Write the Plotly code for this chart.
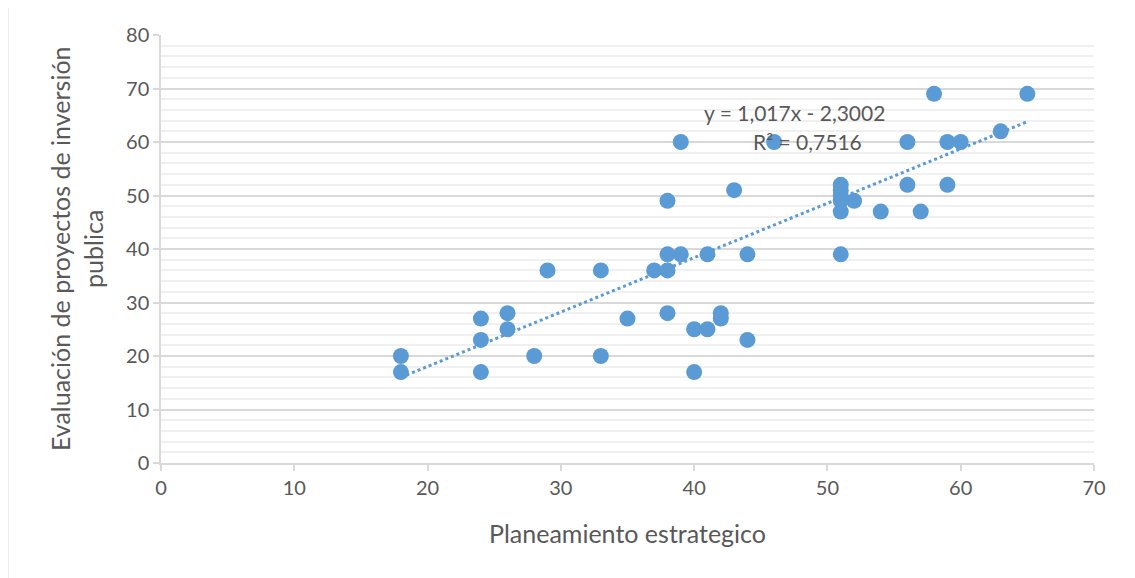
import plotly.graph_objects as go

plan_x = [18, 18, 24, 24, 24, 26, 26, 28, 29, 33, 33, 35, 37, 38, 38, 38, 38,
          39, 39, 40, 40, 41, 41, 42, 42, 43, 44, 44, 46, 51, 51, 51, 51, 51,
          51, 52, 54, 56, 56, 57, 58, 59, 59, 60, 63, 65]
eval_y = [20, 17, 27, 23, 17, 28, 25, 20, 36, 36, 20, 27, 36, 49, 39, 36, 28,
          60, 39, 25, 17, 39, 25, 28, 27, 51, 39, 23, 60, 52, 51, 50, 49, 47,
          39, 49, 47, 60, 52, 47, 69, 60, 52, 60, 62, 69]

slope = 1.017
intercept = -2.3002
eq_text = "y = 1,017x - 2,3002"
r2_text = "R² = 0,7516"

x_title = "Planeamiento estrategico"
y_title = "Evaluación de proyectos de inversión<br>publica"

blue = "#5B9BD5"
grey_text = "#595959"
font_family = "Lato, Open Sans, sans-serif"

fig = go.Figure()

tx = [min(plan_x), max(plan_x)]
ty = [slope * v + intercept for v in tx]
fig.add_trace(go.Scatter(x=tx, y=ty, mode="lines",
                         line=dict(color=blue, width=3, dash="dot"),
                         hoverinfo="skip", showlegend=False))

fig.add_trace(go.Scatter(x=plan_x, y=eval_y, mode="markers",
                         marker=dict(color=blue, size=16, line=dict(width=0)),
                         showlegend=False))

axis_common = dict(showline=True, linecolor="#D9D9D9", linewidth=1.5,
                   ticks="outside", tickcolor="#D9D9D9", ticklen=6, tickwidth=1.5,
                   tickfont=dict(size=20, color=grey_text, family=font_family),
                   zeroline=False)

fig.update_layout(
    width=1127, height=570,
    margin=dict(l=153, r=41, t=27, b=115),
    paper_bgcolor="white", plot_bgcolor="white",
    font=dict(family=font_family, color=grey_text),
    xaxis=dict(range=[0, 70], dtick=10, showgrid=False, **axis_common),
    yaxis=dict(range=[0, 80], dtick=10, showgrid=True, gridcolor="#D9D9D9",
               gridwidth=1.5,
               minor=dict(dtick=2, showgrid=True, gridcolor="#F0F0F0", gridwidth=1.5),
               **axis_common),
)

fig.add_annotation(x=0.5, y=-0.163, xref="paper", yref="paper", text=x_title,
                   showarrow=False, xanchor="center", yanchor="middle",
                   font=dict(size=25, color=grey_text, family=font_family))
fig.add_annotation(x=-0.091, y=0.5, xref="paper", yref="paper", text=y_title,
                   showarrow=False, textangle=-90, xanchor="center", yanchor="middle",
                   font=dict(size=25, color=grey_text, family=font_family))

fig.add_annotation(x=47.5, y=65.6, text=eq_text, showarrow=False,
                   xanchor="center", yanchor="middle",
                   font=dict(size=21, color=grey_text, family=font_family))
fig.add_annotation(x=48.5, y=60.1, text=r2_text, showarrow=False,
                   xanchor="center", yanchor="middle",
                   font=dict(size=21, color=grey_text, family=font_family))

fig.add_shape(type="rect", xref="paper", yref="paper",
              x0=-0.164, x1=1.0397, y0=-0.27, y1=1.0678,
              line=dict(color="#D9D9D9", width=1), fillcolor="rgba(0,0,0,0)")

fig.write_html("out.html")
